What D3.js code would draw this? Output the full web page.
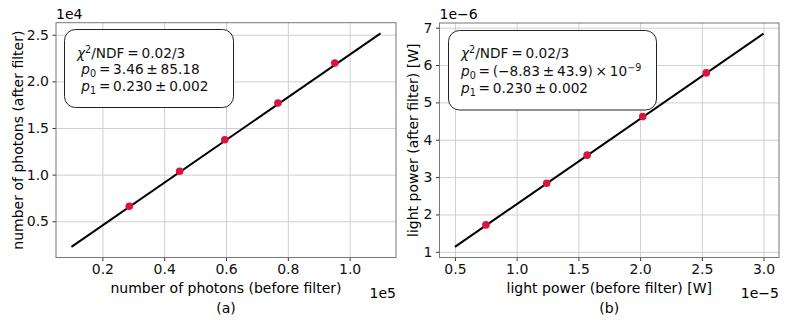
<!DOCTYPE html>
<html>
<head>
<meta charset="utf-8">
<script src="https://cdn.jsdelivr.net/npm/d3@7"></script>
<style>
  body { margin: 0; background: #fff; }
  svg { font-family: "DejaVu Sans", sans-serif; }
  .box text { white-space: pre; }
</style>
</head>
<body>
<div id="chart"></div>
<script>
// panel (a): photon counts
var photonsBefore = [28700, 45000, 59600, 76800, 95200];
var photonsAfter = [6610, 10360, 13750, 17680, 21970];
var photonFitX = [10000, 110000];
var photonFitY = [2260, 25150];
var photonXTicks = [20000, 40000, 60000, 80000, 100000];
var photonYTicks = [5000, 10000, 15000, 20000, 25000];

// panel (b): light power
var powerBefore = [0.751e-5, 1.243e-5, 1.571e-5, 2.021e-5, 2.536e-5];
var powerAfter = [1.72e-6, 2.835e-6, 3.587e-6, 4.62e-6, 5.79e-6];
var powerFitX = [0.5e-5, 3.0e-5];
var powerFitY = [1.133e-6, 6.84e-6];
var powerXTicks = [0.5e-5, 1.0e-5, 1.5e-5, 2.0e-5, 2.5e-5, 3.0e-5];
var powerYTicks = [1e-6, 2e-6, 3e-6, 4e-6, 5e-6, 6e-6, 7e-6];

var W = 789, H = 329;
var svg = d3.select("#chart").append("svg").attr("width", W).attr("height", H);

// mathtext-ish pieces: t = text, i = italic, sub / sup  (thin spaces round operators)
var boxA = [
  [{t: "χ", i: 1}, {t: "2", sup: 1}, {t: "/NDF\u2009=\u20090.02/3"}],
  [{t: " "}, {t: "p", i: 1}, {t: "0", sub: 1}, {t: "\u2009=\u20093.46\u2009±\u200985.18"}],
  [{t: " "}, {t: "p", i: 1}, {t: "1", sub: 1}, {t: "\u2009=\u20090.230\u2009±\u20090.002"}]
];
var boxB = [
  [{t: "χ", i: 1}, {t: "2", sup: 1}, {t: "/NDF\u2009=\u20090.02/3"}],
  [{t: "p", i: 1}, {t: "0", sub: 1}, {t: "\u2009=\u2009(−8.83\u2009±\u200943.9)\u2009×\u200910"}, {t: "−9", sup: 1}],
  [{t: "p", i: 1}, {t: "1", sub: 1}, {t: "\u2009=\u20090.230\u2009±\u20090.002"}]
];

function panel(o) {
  var g = svg.append("g");
  var iw = o.x1 - o.x0, ih = o.y1 - o.y0;

  var xs = o.xd.concat(o.fx), ys = o.yd.concat(o.fy);
  var xe = d3.extent(xs), ye = d3.extent(ys);
  var xm = (xe[1] - xe[0]) * 0.05, ym = (ye[1] - ye[0]) * 0.05;
  var x = d3.scaleLinear().domain([xe[0] - xm, xe[1] + xm]).range([o.x0, o.x1]);
  var y = d3.scaleLinear().domain([ye[0] - ym, ye[1] + ym]).range([o.y1, o.y0]);

  // grid
  g.append("g").attr("transform", "translate(0," + o.y1 + ")")
    .call(d3.axisBottom(x).tickValues(o.xt).tickSize(-ih).tickFormat(""))
    .call(function(a) { a.select(".domain").remove(); a.selectAll("line").attr("stroke", "#cfcfcf"); });
  g.append("g").attr("transform", "translate(" + o.x0 + ",0)")
    .call(d3.axisLeft(y).tickValues(o.yt).tickSize(-iw).tickFormat(""))
    .call(function(a) { a.select(".domain").remove(); a.selectAll("line").attr("stroke", "#cfcfcf"); });

  // axes
  var xa = g.append("g").attr("transform", "translate(0," + o.y1 + ")")
    .call(d3.axisBottom(x).tickValues(o.xt).tickSize(3.5).tickSizeOuter(0).tickPadding(3.5)
      .tickFormat(function(d) { return d3.format(o.xf)(d / o.xs); }));
  var ya = g.append("g").attr("transform", "translate(" + o.x0 + ",0)")
    .call(d3.axisLeft(y).tickValues(o.yt).tickSize(3.5).tickSizeOuter(0).tickPadding(3.5)
      .tickFormat(function(d) { return d3.format(o.yf)(d / o.ys); }));
  [xa, ya].forEach(function(a) {
    a.select(".domain").remove();
    a.selectAll("line").attr("stroke", "#333");
    a.selectAll("text").attr("font-size", 14).attr("fill", "#111")
      .attr("font-family", "DejaVu Sans");
  });

  g.append("rect").attr("x", o.x0).attr("y", o.y0).attr("width", iw).attr("height", ih)
    .attr("fill", "none").attr("stroke", "#777").attr("stroke-width", 1);

  // fit line and points
  g.append("path")
    .datum(d3.zip(o.fx, o.fy))
    .attr("d", d3.line().x(function(d) { return x(d[0]); }).y(function(d) { return y(d[1]); }))
    .attr("stroke", "#000").attr("stroke-width", 2).attr("fill", "none");
  g.selectAll(".pt").data(d3.zip(o.xd, o.yd)).enter().append("circle")
    .attr("class", "pt")
    .attr("cx", function(d) { return x(d[0]); })
    .attr("cy", function(d) { return y(d[1]); })
    .attr("r", 3.8).attr("fill", "crimson");

  // info box
  var b = g.append("g").attr("class", "box");
  b.append("rect").attr("x", o.box[0]).attr("y", o.box[1]).attr("width", o.box[2]).attr("height", o.box[3])
    .attr("rx", 11).attr("fill", "#fff").attr("stroke", "#222").attr("stroke-width", 1);
  o.lines.forEach(function(line, k) {
    var t = b.append("text").attr("x", o.box[0] + 12.5).attr("y", o.base[k])
      .attr("font-size", 13.7).attr("fill", "#111");
    line.forEach(function(p) {
      var s = t.append("tspan").text(p.t);
      if (p.i) s.attr("font-style", "italic");
      if (p.sup) s.attr("font-size", 9.6).attr("baseline-shift", "5.5");
      if (p.sub) s.attr("font-size", 9.6).attr("baseline-shift", "-3");
    });
  });

  // labels
  g.append("text").attr("x", o.x0 + iw / 2).attr("y", 293).attr("text-anchor", "middle")
    .attr("font-size", 14).text(o.xl);
  g.append("text").attr("x", o.x0 + iw / 2).attr("y", 313).attr("text-anchor", "middle")
    .attr("font-size", 14).text(o.cap);
  g.append("text").attr("transform", "translate(" + o.ylx + "," + (o.y0 + ih / 2) + ") rotate(-90)")
    .attr("text-anchor", "middle").attr("font-size", 14).text(o.yl);
  g.append("text").attr("x", o.x0).attr("y", 19).attr("font-size", 14).text(o.yo);
  g.append("text").attr("x", o.x1).attr("y", 298).attr("text-anchor", "end")
    .attr("font-size", 14).text(o.xo);
}

panel({
  x0: 56, x1: 396, y0: 22.7, y1: 257.5,
  xd: photonsBefore, yd: photonsAfter, fx: photonFitX, fy: photonFitY,
  xt: photonXTicks, yt: photonYTicks, xs: 1e5, ys: 1e4, xf: ".1f", yf: ".1f",
  xl: "number of photons (before filter)", yl: "number of photons (after filter)",
  cap: "(a)", yo: "1e4", xo: "1e5", ylx: 23,
  box: [64.5, 29.5, 169, 78], lines: boxA, base: [58, 74, 91]
});

panel({
  x0: 439.5, x1: 779, y0: 23, y1: 257.5,
  xd: powerBefore, yd: powerAfter, fx: powerFitX, fy: powerFitY,
  xt: powerXTicks, yt: powerYTicks, xs: 1e-5, ys: 1e-6, xf: ".1f", yf: ".0f",
  xl: "light power (before filter) [W]", yl: "light power (after filter) [W]",
  cap: "(b)", yo: "1e−6", xo: "1e−5", ylx: 418,
  box: [448.5, 30.5, 208, 79.5], lines: boxB, base: [58, 76, 93]
});
</script>
</body>
</html>
